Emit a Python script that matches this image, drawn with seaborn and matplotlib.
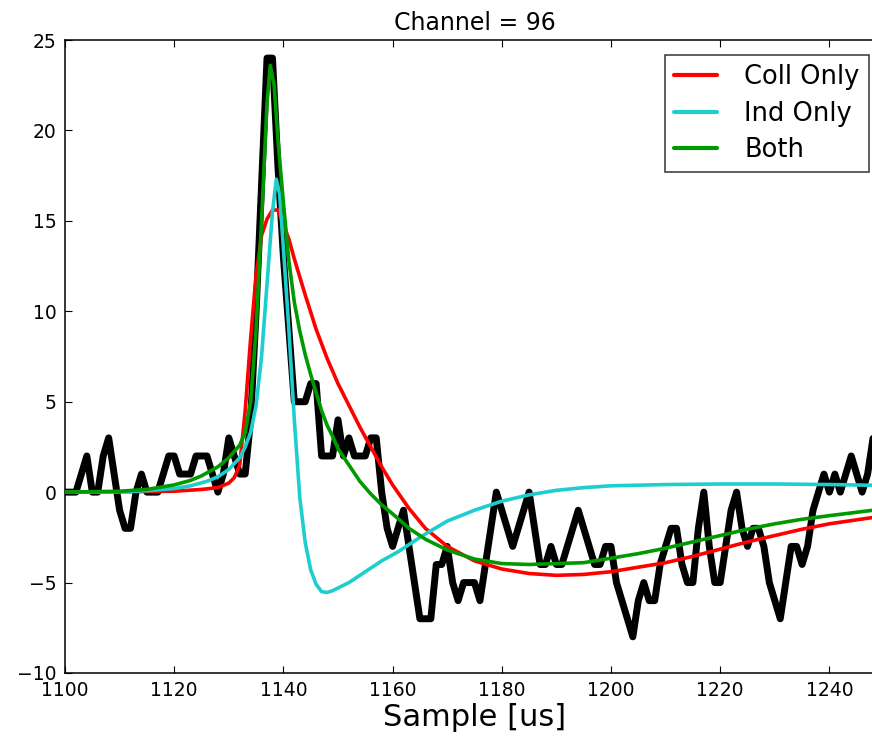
import numpy as np
import pandas as pd
import seaborn as sns
import matplotlib.pyplot as plt

# raw waveform, one sample per us
sample_start = 1100
raw_adc = [0, 0, 0, 1, 2, 0, 0, 2, 3, 1,
           -1, -2, -2, 0, 1, 0, 0, 0, 1, 2,
           2, 1, 1, 1, 2, 2, 2, 1, 0, 1,
           3, 2, 1, 1, 4, 10, 17, 24, 24, 18,
           13, 9, 5, 5, 5, 6, 6, 2, 2, 2,
           4, 2, 3, 2, 2, 2, 3, 3, 0, -2,
           -3, -2, -1, -3, -5, -7, -7, -7, -4, -4,
           -3, -5, -6, -5, -5, -5, -6, -4, -2, 0,
           -1, -2, -3, -2, -1, 0, -2, -4, -4, -3,
           -4, -4, -3, -2, -1, -2, -3, -4, -4, -3,
           -3, -5, -6, -7, -8, -6, -5, -6, -6, -4,
           -3, -2, -2, -4, -5, -5, -2, 0, -3, -5,
           -5, -3, -1, 0, -2, -3, -2, -2, -3, -5,
           -6, -7, -5, -3, -3, -4, -3, -1, 0, 1,
           0, 1, 0, 1, 2, 1, 0, 1, 3]
raw_x = list(range(sample_start, sample_start + len(raw_adc)))

# fit curves
coll_x = [1100, 1110, 1120, 1125, 1128, 1130, 1131, 1132, 1133, 1134, 1135, 1136,
          1137, 1138, 1139, 1140, 1141, 1142, 1144, 1146, 1148, 1150, 1152, 1154,
          1156, 1158, 1160, 1163, 1166, 1170, 1175, 1180, 1185, 1190, 1195, 1200,
          1205, 1210, 1215, 1220, 1225, 1230, 1235, 1240, 1248]
coll_y = [0.0, 0.02, 0.05, 0.15, 0.25, 0.5, 0.8, 1.5, 4.5, 8.5, 12.0, 14.2,
          15.1, 15.6, 15.6, 14.8, 14.0, 12.9, 10.9, 9.0, 7.4, 6.0, 4.8, 3.6,
          2.5, 1.4, 0.4, -0.9, -2.0, -3.0, -3.8, -4.25, -4.5, -4.6, -4.55, -4.4,
          -4.15, -3.9, -3.55, -3.15, -2.75, -2.4, -2.05, -1.75, -1.4]

ind_x = [1100, 1110, 1115, 1120, 1123, 1126, 1128, 1130, 1132, 1133, 1134, 1135,
         1136, 1137, 1138, 1138.7, 1139.3, 1140, 1141, 1142, 1143, 1144, 1145,
         1146, 1147, 1148, 1149, 1150, 1152, 1155, 1158, 1161, 1165, 1170, 1175,
         1180, 1185, 1190, 1195, 1200, 1210, 1220, 1230, 1240, 1248]
ind_y = [0.0, 0.02, 0.08, 0.2, 0.35, 0.6, 0.85, 1.25, 1.9, 2.5, 3.3, 4.8,
         7.5, 11.5, 15.5, 17.3, 16.5, 13.5, 9.0, 4.0, -0.3, -2.8, -4.3,
         -5.1, -5.5, -5.55, -5.45, -5.3, -5.0, -4.4, -3.8, -3.3, -2.5, -1.6, -1.0,
         -0.5, -0.15, 0.1, 0.25, 0.35, 0.42, 0.45, 0.45, 0.42, 0.38]

both_x = [1100, 1110, 1115, 1120, 1123, 1125, 1128, 1130, 1132, 1133, 1134, 1135,
          1136, 1137, 1137.6, 1138.3, 1139, 1140, 1141, 1142, 1143, 1144, 1145,
          1146, 1147, 1148, 1149, 1150, 1152, 1154, 1156, 1158, 1160, 1163, 1166,
          1170, 1175, 1180, 1185, 1190, 1195, 1200, 1205, 1210, 1215, 1220, 1225,
          1230, 1235, 1240, 1248]
both_y = [0.0, 0.05, 0.15, 0.4, 0.65, 0.9, 1.4, 1.9, 2.6, 3.3, 5.0, 9.0,
          15.0, 21.5, 23.6, 22.5, 19.5, 16.0, 12.8, 10.5, 8.9, 7.6, 6.5,
          5.5, 4.5, 3.7, 3.1, 2.4, 1.5, 0.6, -0.1, -0.7, -1.2, -2.0, -2.6,
          -3.2, -3.7, -3.95, -4.0, -3.95, -3.9, -3.65, -3.4, -3.1, -2.75, -2.4, -2.05,
          -1.75, -1.5, -1.3, -1.0]

sns.set_style("ticks")
plt.rcParams.update({
    "font.family": ["DejaVu Sans"],
    "text.color": "black", "axes.labelcolor": "black",
    "xtick.color": "black", "ytick.color": "black",
    "xtick.direction": "in", "ytick.direction": "in",
    "xtick.top": True, "ytick.right": True,
    "xtick.major.size": 5, "ytick.major.size": 5,
    "axes.edgecolor": "black", "axes.linewidth": 1.1,
})

fig = plt.figure(figsize=(8.72, 7.36), dpi=100)
ax = fig.add_axes([65 / 872, 63 / 736, 819 / 872, 633 / 736])

sns.lineplot(x=raw_x, y=raw_adc, ax=ax, color="black", lw=5, zorder=1)
sns.lineplot(x=coll_x, y=coll_y, ax=ax, color="#ff0000", lw=2.6, label="Coll Only", zorder=2)
sns.lineplot(x=ind_x, y=ind_y, ax=ax, color="#1ecece", lw=2.6, label="Ind Only", zorder=3)
sns.lineplot(x=both_x, y=both_y, ax=ax, color="#009a00", lw=2.6, label="Both", zorder=4)

ax.set_xlim(1100, 1250)
ax.set_ylim(-10, 25)
ax.set_xticks(range(1100, 1251, 20))
ax.set_yticks(range(-10, 26, 5))
ax.tick_params(labelsize=13.5, pad=6)
ax.set_xlabel("Sample [us]", fontsize=22, labelpad=2)
ax.set_ylabel("")
ax.set_title("Channel = 96", fontsize=17, pad=7)

leg = ax.legend(loc="upper right", fontsize=18.5, frameon=True, fancybox=False,
                edgecolor="black", handlelength=1.7, handletextpad=1.05,
                borderpad=0.35, labelspacing=0.4, borderaxespad=0.6)
leg.get_frame().set_linewidth(1.1)
for line in leg.get_lines():
    line.set_linewidth(3)

fig.savefig("out.png", dpi=100)
